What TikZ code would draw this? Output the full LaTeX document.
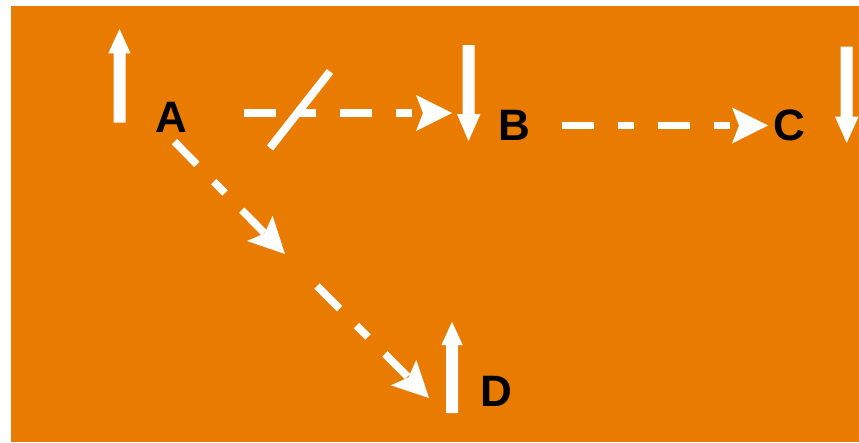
\documentclass[tikz,border=0pt]{standalone}
\usepackage{fontspec}
\setmainfont{Liberation Sans}
\usetikzlibrary{arrows.meta}
\definecolor{bgorange}{RGB}{232,123,0}
\begin{document}
\begin{tikzpicture}[x=1pt,y=-1pt,
  lbl/.style={inner sep=0pt, font=\fontsize{44}{48}\selectfont\bfseries, text=black},
  vecshape/.style={fill=white},
  dashedge/.style={draw=white, line width=7.5pt, dash pattern=on 32pt off 24pt on 16pt off 24pt, -{Stealth[length=36pt,width=36pt,inset=7pt,line width=0pt]}},
  slashmark/.style={draw=white, line width=8pt}]
\useasboundingbox (0,0) rectangle (859,442);
\fill[white] (0,0) rectangle (859,442);
\fill[bgorange] (11,5.5) rectangle (859,442);
% labels
\node[lbl] (A) at (171,117) {A};
\node[lbl] (B) at (514,125) {B};
\node[lbl] (C) at (789,125) {C};
\node[lbl] (D) at (496,391) {D};
% vertical arrows (drawn as shapes)
\fill[vecshape] (113.5,122.5) -- (113.5,53.3) -- (108.3,53.3) -- (119.5,29) -- (130.5,53.3) -- (125.5,53.3) -- (125.5,122.5) -- cycle;
\fill[vecshape] (462.5,45) -- (462.5,114) -- (457,114) -- (468.5,141) -- (480.5,114) -- (474.5,114) -- (474.5,45) -- cycle;
\fill[vecshape] (840.7,46.7) -- (840.7,116.7) -- (835,116.7) -- (846.7,143) -- (858.5,116.7) -- (852.7,116.7) -- (852.7,46.7) -- cycle;
\fill[vecshape] (446,413) -- (446,345) -- (441.5,345) -- (452,321.7) -- (462.7,345) -- (458,345) -- (458,413) -- cycle;
% dashed connectors
\coordinate (abS) at (244,113);   \coordinate (abE) at (452,113);
\coordinate (bcS) at (562,125.5); \coordinate (bcE) at (768,125.5);
\coordinate (adS) at (174.5,141.7); \coordinate (adM) at (285,254);
\coordinate (adR) at (317,286);   \coordinate (adE) at (429,398);
\draw[dashedge] (abS) -- (abE);
\draw[dashedge] (bcS) -- (bcE);
\draw[dashedge] (adS) -- (adM);
\draw[dashedge] (adR) -- (adE);
% slash across A-B edge
\coordinate (slS) at (270,148); \coordinate (slE) at (330,71.5);
\draw[slashmark] (slS) -- (slE);
\end{tikzpicture}
\end{document}
